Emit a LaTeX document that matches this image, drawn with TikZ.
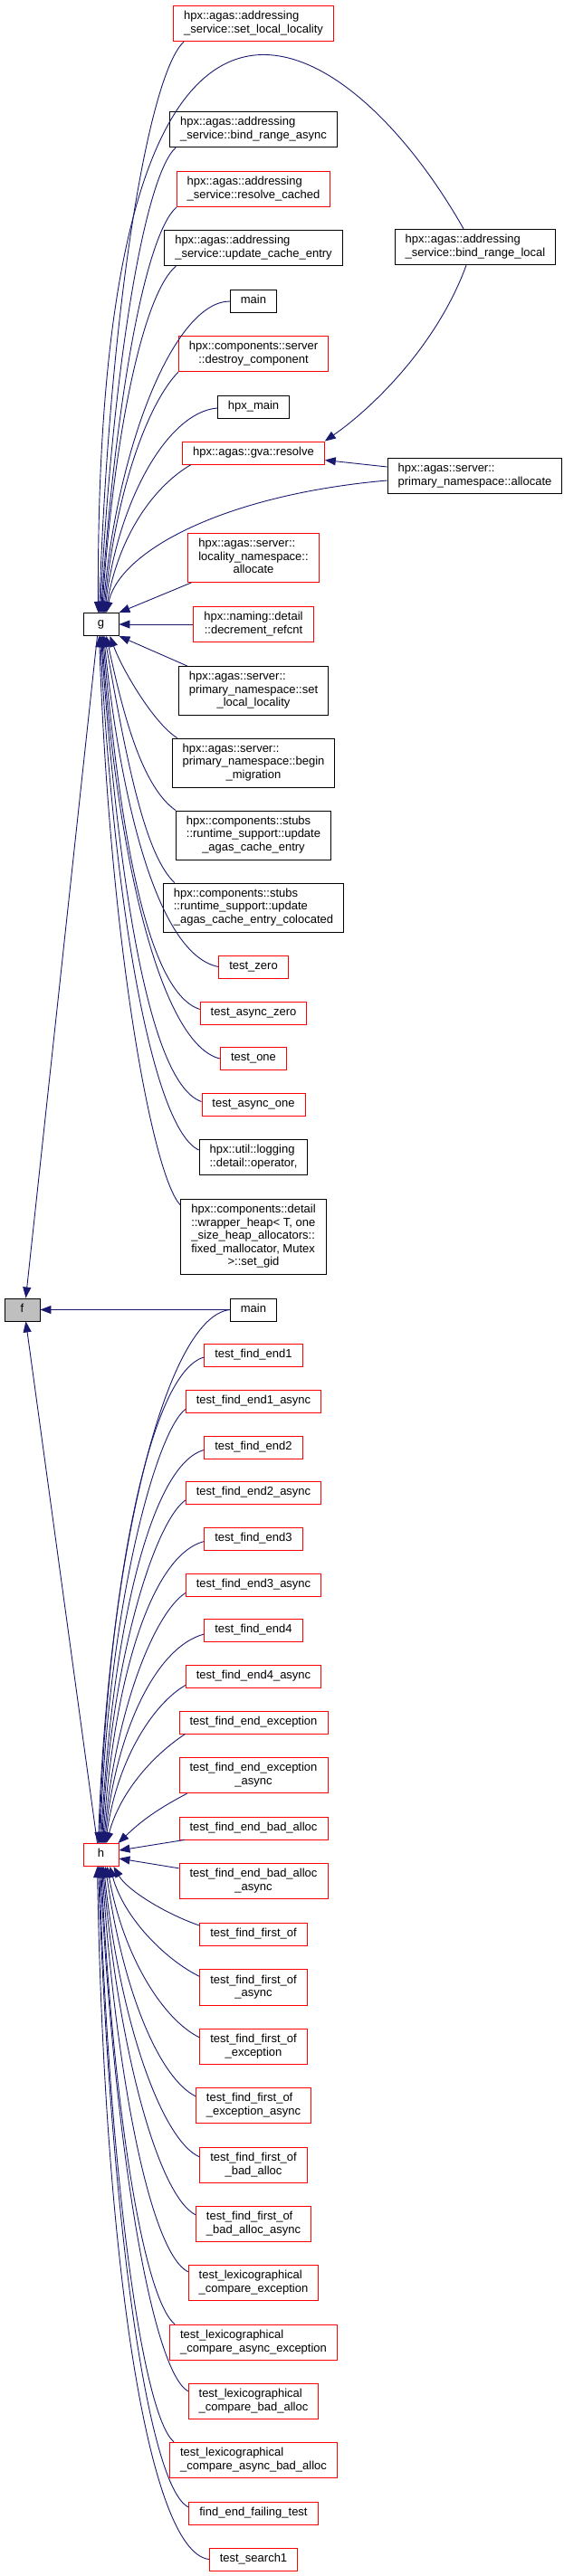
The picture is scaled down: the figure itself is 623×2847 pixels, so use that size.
\documentclass[tikz,border=0pt]{standalone}
\usepackage{fontspec}
\setmainfont{Liberation Sans}
\usepackage{tikz}
\usetikzlibrary{arrows.meta,calc}
\definecolor{edgeblue}{HTML}{191970}
\definecolor{rootgray}{HTML}{BFBFBF}
\newcommand{\oneln}[1]{\begin{tabular}{@{}c@{}}#1\end{tabular}}
\newcommand{\multln}[2]{\begin{tabular}{@{}l@{}}#1\\\multicolumn{1}{@{}c@{}}{#2}\end{tabular}}

\begin{document}
\begin{tikzpicture}[x=1pt, y=1pt,
  fn/.style={draw=black, line width=0.9pt, fill=white, minimum width=39pt,
    inner xsep=11.5pt, inner ysep=5.25pt, font=\fontsize{13}{14.5}\selectfont},
  trunc/.style={fn, draw=red},
  call/.style={{Triangle[length=12pt,width=9pt]}-, draw=edgeblue, line width=0.9pt}
]
\useasboundingbox (0,0) rectangle (623,-2847);

% called functions
\node[fn, fill=rootgray] (f) at (24.5,-1447.5) {\oneln{f}};
\node[fn] (g) at (111.5,-690) {\oneln{g}};
\node[trunc] (h) at (111.5,-2050) {\oneln{h}};

% callers of g
\node[trunc] (sll) at (280,-26) {\multln{hpx::agas::addressing}{\_service::set\_local\_locality}};
\node[fn] (bra) at (280,-143) {\multln{hpx::agas::addressing}{\_service::bind\_range\_async}};
\node[trunc] (rc) at (280,-209) {\multln{hpx::agas::addressing}{\_service::resolve\_cached}};
\node[fn] (uce) at (280,-274) {\multln{hpx::agas::addressing}{\_service::update\_cache\_entry}};
\node[fn] (maing) at (280,-333) {\oneln{main}};
\node[trunc] (dc) at (280,-391) {\multln{hpx::components::server}{::destroy\_component}};
\node[fn] (hpxmain) at (280,-450) {\oneln{hpx\_main}};
\node[trunc] (resolve) at (280,-500.5) {\oneln{hpx::agas::gva::resolve}};
\node[fn] (brl) at (525,-273) {\multln{hpx::agas::addressing}{\_service::bind\_range\_local}};
\node[fn] (pna) at (524.5,-526) {\multln{hpx::agas::server::}{primary\_namespace::allocate}};
\node[trunc] (lna) at (280,-616.5) {\multln{hpx::agas::server::\\locality\_namespace::}{allocate}};
\node[trunc] (dr) at (280,-690) {\multln{hpx::naming::detail}{::decrement\_refcnt}};
\node[fn] (psll) at (280,-763.5) {\multln{hpx::agas::server::\\primary\_namespace::set}{\_local\_locality}};
\node[fn] (bm) at (280,-843) {\multln{hpx::agas::server::\\primary\_namespace::begin}{\_migration}};
\node[fn] (uace) at (280,-923) {\multln{hpx::components::stubs\\::runtime\_support::update}{\_agas\_cache\_entry}};
\node[fn] (uacec) at (280,-1003) {\multln{hpx::components::stubs\\::runtime\_support::update}{\_agas\_cache\_entry\_colocated}};
\node[trunc] (tz) at (280,-1068.5) {\oneln{test\_zero}};
\node[trunc] (taz) at (280,-1119.5) {\oneln{test\_async\_zero}};
\node[trunc] (tone) at (280,-1170) {\oneln{test\_one}};
\node[trunc] (tao) at (280,-1220.5) {\oneln{test\_async\_one}};
\node[fn] (log) at (280,-1279) {\multln{hpx::util::logging}{::detail::operator,}};
\node[fn] (wh) at (280,-1367) {\multln{hpx::components::detail\\::wrapper\_heap< T, one\\\_size\_heap\_allocators::\\fixed\_mallocator, Mutex}{ >::set\_gid}};

% callers of h
\node[fn] (mainh) at (280,-1447.5) {\oneln{main}};
\foreach \nr/\y in {1/1498,2/1599.5,3/1700.5,4/1802}
  \node[trunc] (tfe\nr) at (280,-\y) {\oneln{test\_find\_end\nr}};
\foreach \nr/\y in {1/1548.5,2/1650,3/1751.5,4/1852.5}
  \node[trunc] (tfe\nr a) at (280,-\y) {\oneln{test\_find\_end\nr\_async}};
\node[trunc] (tfee) at (280,-1903.5) {\oneln{test\_find\_end\_exception}};
\node[trunc] (tfeea) at (280,-1962) {\multln{test\_find\_end\_exception}{\_async}};
\node[trunc] (tfeba) at (280,-2020.5) {\oneln{test\_find\_end\_bad\_alloc}};
\node[trunc] (tfebaa) at (280,-2079) {\multln{test\_find\_end\_bad\_alloc}{\_async}};
\node[trunc] (tffo) at (280,-2138) {\oneln{test\_find\_first\_of}};
\node[trunc] (tffoa) at (280,-2196.5) {\multln{test\_find\_first\_of}{\_async}};
\node[trunc] (tffoe) at (280,-2262) {\multln{test\_find\_first\_of}{\_exception}};
\node[trunc] (tffoea) at (280,-2327) {\multln{test\_find\_first\_of}{\_exception\_async}};
\node[trunc] (tffoba) at (280,-2393) {\multln{test\_find\_first\_of}{\_bad\_alloc}};
\node[trunc] (tffobaa) at (280,-2458) {\multln{test\_find\_first\_of}{\_bad\_alloc\_async}};
\node[trunc] (tlce) at (280,-2523) {\multln{test\_lexicographical}{\_compare\_exception}};
\node[trunc] (tlcae) at (280,-2589) {\multln{test\_lexicographical}{\_compare\_async\_exception}};
\node[trunc] (tlcba) at (280,-2654) {\multln{test\_lexicographical}{\_compare\_bad\_alloc}};
\node[trunc] (tlcaba) at (280,-2719) {\multln{test\_lexicographical}{\_compare\_async\_bad\_alloc}};
\node[trunc] (feft) at (280,-2778) {\oneln{find\_end\_failing\_test}};
\node[trunc] (ts1) at (280,-2828.5) {\oneln{test\_search1}};

% edges into g from above
\foreach \nm/\an/\sx/\sy/\dx/\oa/\od/\ia/\id in {
  sll/south west/12/0/-2/88/350/222/50,
  bra/south west/7/0/-1/87/280/222/45,
  rc/south west/0/0/0/86/245/222/45,
  uce/south west/13/0/1/86/210/220/45,
  maing/west/0/0/2/85/190/180/60,
  dc/south west/0/0/3/84/145/226/45,
  hpxmain/west/0/-1/4/83/125/185/55,
  resolve/south west/10/0/5/80/90/210/45,
  pna/west/0/-5/6/78/70/185/180}
  \draw[call] ($(g.north)+(\dx,0)$) to[out=\oa, out distance=\od pt, in=\ia, in distance=\id pt] ($(\nm.\an)+(\sx,\sy)$);
\draw[call] ($(g.north)+(-3,0)$) .. controls ($(g.north)+(-6.5,827)$) and ($(brl.north)+(-145,233)$) .. ($(brl.north)+(-13,0)$);
\draw[call] (g.north east) -- ($(lna.south west)+(4,0)$);
\draw[call] (g.east) -- (dr.west);
\draw[call] (g.south east) -- ($(psll.north west)+(10,0)$);
% edges into g from below
\foreach \nm/\an/\sx/\sy/\dx/\oa/\od/\ia/\id in {
  bm/north west/6/0/10/-70/40/148/30,
  uace/north west/0/0/6/-78/90/145/45,
  uacec/north west/13/0/4/-80/140/137/45,
  tz/west/0/0/3/-84/200/169/65,
  taz/west/0/4/2/-85/225/162/60,
  tone/west/0/0/1/-86/255/167/65,
  tao/west/0/3/0/-86/280/161/60,
  log/west/0/8/-1/-87/310/155/55,
  wh/north west/0/-7/-2/-88/340/134/45}
  \draw[call] ($(g.south)+(\dx,0)$) to[out=\oa, out distance=\od pt, in=\ia, in distance=\id pt] ($(\nm.\an)+(\sx,\sy)$);

% edges into resolve
\draw[call] (resolve.north east) to[out=35, out distance=70pt, in=250, in distance=90pt] ($(brl.south)+(-10,0)$);
\draw[call] ($(resolve.east)+(0,-8)$) -- ($(pna.west)+(0,10)$);

% edges into h from above
\foreach \nm/\an/\sx/\sy/\dx/\oa/\od/\ia/\id in {
  mainh/west/0/0/-3/88/325/186/70,
  tfe1/west/0/-2/-2/88/295/195/60,
  tfe1a/west/0/-9/-1/88/265/217/40,
  tfe2/west/0/-3/0/87/240/195/60,
  tfe2a/west/0/-8/1/87/210/215/40,
  tfe3/west/0/-3/2/86/185/195/60,
  tfe3a/west/0/-9/3/85/150/213/40,
  tfe4/west/0/-4/4/84/125/195/55,
  tfe4a/west/0/-10/5/82/95/210/40,
  tfee/south west/7/0/6/75/60/213/40}
  \draw[call] ($(h.north)+(\dx,0)$) to[out=\oa, out distance=\od pt, in=\ia, in distance=\id pt] ($(\nm.\an)+(\sx,\sy)$);
\draw[call] ($(h.north east)+(-1,0)$) to[bend left=8] ($(tfeea.south west)+(9,0)$);
\draw[call] ($(h.east)+(0,5)$) -- ($(tfeba.south west)+(6,0)$);
\draw[call] ($(h.east)+(0,-4)$) -- ($(tfebaa.north west)+(0,-6)$);
% edges into h from below
\foreach \nm/\an/\sx/\sy/\dx/\oa/\od/\ia/\id in {
  tffo/north west/0/-3/14/-60/30/161/40,
  tffoa/north west/0/-8/10/-75/60/154/40,
  tffoe/north west/0/-10/7/-80/100/154/45,
  tffoea/north west/0/-10/5/-82/140/153/45,
  tffoba/north west/0/-11/3/-84/175/156/45,
  tffobaa/north west/0/-10/2/-85/210/153/45,
  tlce/north west/0/-8/1/-86/245/153/45,
  tlcae/north west/6/0/0/-87/275/140/45,
  tlcba/north west/0/-9/-1/-87/320/150/45,
  tlcaba/north west/5/0/-2/-88/350/140/45,
  feft/west/0/7/-3/-88/390/155/50,
  ts1/west/0/0/-4/-89/420/173/70}
  \draw[call] ($(h.south)+(\dx,0)$) to[out=\oa, out distance=\od pt, in=\ia, in distance=\id pt] ($(\nm.\an)+(\sx,\sy)$);

% edges into f
\draw[call] ($(f.north)+(4,0)$) -- ($(g.south)+(-4,0)$);
\draw[call] (f.east) -- (mainh.west);
\draw[call] ($(f.south)+(4,0)$) -- ($(h.north)+(-4,0)$);
\end{tikzpicture}
\end{document}
